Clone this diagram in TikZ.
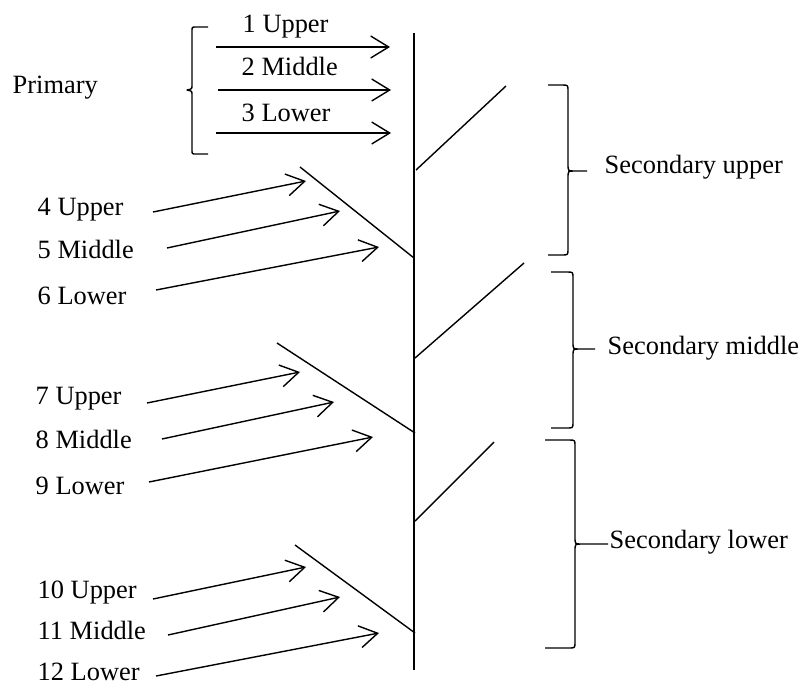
\documentclass[tikz,border=0pt]{standalone}
\usepackage{fontspec}
\setmainfont{Liberation Serif}
\usetikzlibrary{arrows.meta}
\begin{document}
\begin{tikzpicture}[x=0.5pt,y=-0.5pt,line width=0.7pt,
  font=\fontsize{13.2}{15}\selectfont,
  lbl/.style={anchor=base west,inner sep=0pt},
  feed/.style={-{Straight Barb[length=9pt,width=11pt]}},
  brk/.style={line join=round}]

  \useasboundingbox (0,0) rectangle (801,686);

  % main stem
  \coordinate (top) at (414,33);
  \coordinate (bot) at (414,670);
  \draw (top) -- (bot);

  % side branches
  \foreach \n/\xa/\ya/\xb/\yb in {r1/416/170/506/86, r2/415/358/524/263, r3/415/521/494/442,
      l1/300/167/414/258, l2/277/343/415/433, l3/295/545/415/633}
  {
    \coordinate (\n a) at (\xa,\ya);
    \coordinate (\n b) at (\xb,\yb);
    \draw (\n a) -- (\n b);
  }

  % labels
  \foreach \n/\x/\y/\t in {pri/12/93/Primary, u1/242/32/1 Upper, m2/241/75/2 Middle, w3/241/121/3 Lower,
      u4/37/215/4 Upper, m5/37/258/5 Middle, w6/37/304/6 Lower,
      u7/35/404/7 Upper, m8/35/448/8 Middle, w9/35/494/9 Lower,
      u10/37/598/10 Upper, m11/37/639/11 Middle, w12/37/680/12 Lower,
      su/604/173/Secondary upper, sm/607/354/Secondary middle, sl/609/548/Secondary lower}
    \node[lbl] (\n) at (\x,\y) {\t};

  % arrows
  \foreach \n/\xa/\ya/\xb/\yb in {1/216/47/390/47, 2/218/90/391/90, 3/216/133/391/133,
      4/153/212/306/181, 5/167/248/340/211, 6/156/290/379/247,
      7/147/403/300/372, 8/162/439/334/402, 9/149/482/373/437,
      10/153/599/306/567, 11/168/635/340/597, 12/156/676/379/633}
  {
    \coordinate (t\n) at (\xa,\ya);
    \coordinate (h\n) at (\xb,\yb);
    \draw[feed] (t\n) -- (h\n);
  }

  % primary brace
  \draw[brk] (208,27) -- (196,27) .. controls (192,27) .. (192,31) -- (192,85)
    .. controls (192,89) .. (187,90) .. controls (192,91) .. (192,95) -- (192,150)
    .. controls (192,154) .. (196,154) -- (208,154);

  % secondary braces
  \foreach \xa/\xv/\xt/\ya/\ym/\yb in {548/568/587/85/171/255, 551/573/595/272/349/428,
      545/575/608/440/544/648}
    \draw[brk] (\xa,\ya) -- ({\xv-6},\ya) .. controls (\xv,\ya) .. (\xv,{\ya+6})
      -- (\xv,{\ym-7}) .. controls (\xv,\ym) .. ({\xv+6},\ym) -- (\xt,\ym)
      ({\xv+6},\ym) .. controls (\xv,\ym) .. (\xv,{\ym+7})
      -- (\xv,{\yb-6}) .. controls (\xv,\yb) .. ({\xv-6},\yb) -- (\xa,\yb);

\end{tikzpicture}
\end{document}
